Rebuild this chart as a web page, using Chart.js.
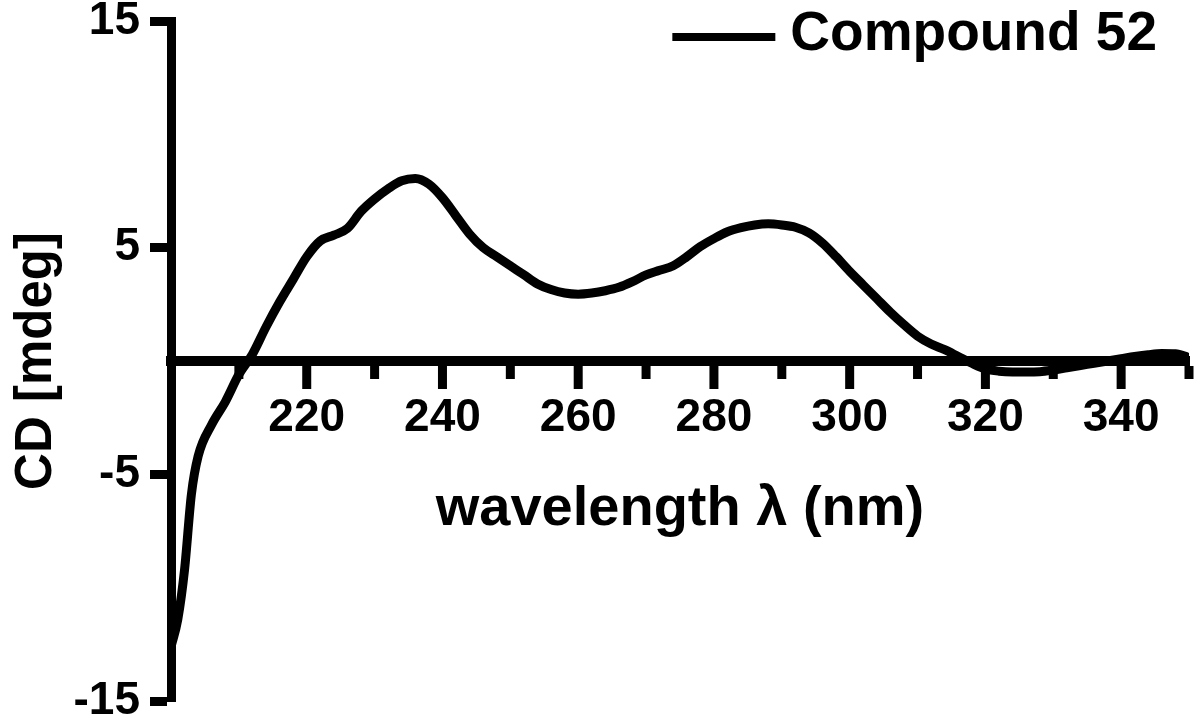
<!DOCTYPE html>
<html>
<head>
<meta charset="utf-8">
<script src="https://cdn.jsdelivr.net/npm/chart.js@4.4.1/dist/chart.umd.min.js"></script>
<style>
  html, body { margin: 0; padding: 0; background: #fff; }
  #wrap { width: 1200px; height: 721px; }
</style>
</head>
<body>
<div id="wrap"><canvas id="cd" width="1200" height="721"></canvas></div>
<script>
// CD spectrum, values
const wavelengths = [200, 201, 202, 203, 204, 206, 208, 210, 212, 214, 216, 218, 220, 222, 224, 226, 228, 230,
  232, 234, 236, 238, 240, 242, 244, 246, 248, 250, 252, 254, 256, 258, 260, 262, 264, 266, 268, 270,
  272, 274, 276, 278, 280, 282, 284, 286, 288, 290, 292, 294, 296, 298, 300, 302, 304, 306, 308, 310,
  312, 314, 316, 318, 320, 322, 324, 326, 328, 330, 332, 334, 336, 338, 340, 342, 344, 346, 348, 350];
const cdValues = [-12.6, -11.4, -9.2, -5.9, -4.2, -2.8, -1.8, -0.6, 0.3, 1.5, 2.6, 3.6, 4.6, 5.3, 5.55, 5.85, 6.6, 7.15,
  7.6, 7.95, 8.05, 7.8, 7.2, 6.4, 5.6, 5.0, 4.6, 4.2, 3.8, 3.4, 3.15, 3.0, 2.95, 3.0, 3.1, 3.25, 3.5, 3.8,
  4.0, 4.2, 4.6, 5.05, 5.4, 5.7, 5.88, 6.0, 6.05, 6.0, 5.9, 5.65, 5.2, 4.6, 3.95, 3.35, 2.75, 2.15, 1.6, 1.1,
  0.75, 0.5, 0.2, -0.1, -0.35, -0.45, -0.48, -0.48, -0.47, -0.4, -0.3, -0.2, -0.1, 0.0, 0.1, 0.2, 0.28, 0.33, 0.32, 0.15];

const xTickLabels = [220, 240, 260, 280, 300, 320, 340];
const yTickValues = [-15, -5, 5, 15];
const seriesName = 'Compound 52';

const FONT = "'Liberation Sans', Arial, Helvetica, sans-serif";
Chart.defaults.font.family = FONT;
Chart.defaults.color = '#000';

// minor / major ticks hanging below the x axis line (drawn from the scale)
const xTickMarks = {
  id: 'xTickMarks',
  afterDatasetsDraw(chart) {
    const xs = chart.scales.x, ys = chart.scales.y;
    const ctx = chart.ctx;
    const y0 = ys.getPixelForValue(0) + 5;
    ctx.save();
    ctx.fillStyle = '#000';
    xs.ticks.forEach(t => {
      if (t.value <= xs.min) return;
      const px = xs.getPixelForValue(t.value);
      const len = t.value % 20 === 0 ? 23 : 13;
      ctx.fillRect(px - 4.5, y0, 9, len);
    });
    ctx.restore();
  }
};

// legend in the top right corner of the plot
const lineLegend = {
  id: 'lineLegend',
  afterDraw(chart) {
    const ctx = chart.ctx;
    const area = chart.chartArea;
    const ds = chart.data.datasets[0];
    ctx.save();
    ctx.font = 'bold 55px ' + FONT;
    ctx.textBaseline = 'middle';
    ctx.textAlign = 'right';
    ctx.fillStyle = '#000';
    const tx = area.right - 32;
    const ty = area.top + 14;
    ctx.fillText(ds.label, tx, ty);
    const left = tx - ctx.measureText(ds.label).width;
    ctx.strokeStyle = ds.borderColor;
    ctx.lineWidth = 8;
    ctx.beginPath();
    ctx.moveTo(left - 118, ty + 2);
    ctx.lineTo(left - 15, ty + 2);
    ctx.stroke();
    ctx.restore();
  }
};

new Chart(document.getElementById('cd'), {
  type: 'line',
  data: {
    datasets: [{
      label: seriesName,
      data: wavelengths.map((w, i) => ({ x: w, y: cdValues[i] })),
      borderColor: '#000',
      backgroundColor: '#000',
      borderWidth: 9,
      pointRadius: 0,
      fill: false,
      cubicInterpolationMode: 'monotone'
    }]
  },
  options: {
    responsive: false,
    animation: false,
    devicePixelRatio: 1,
    layout: { padding: { top: 21, right: 8, bottom: 20, left: 0 } },
    plugins: { legend: { display: false }, tooltip: { enabled: false } },
    scales: {
      x: {
        type: 'linear',
        min: 200,
        max: 350,
        position: { y: 0 },
        border: { display: true, width: 10, color: '#000' },
        grid: { display: true, drawOnChartArea: false, drawTicks: true, tickLength: 23, tickColor: 'rgba(0,0,0,0)' },
        ticks: {
          stepSize: 10,
          autoSkip: false,
          maxRotation: 0,
          padding: 11,
          font: { size: 46, weight: 'bold', lineHeight: 1 },
          callback: v => xTickLabels.includes(v) ? String(v) : ''
        },
        title: {
          display: true,
          text: 'wavelength \u03bb (nm)',
          font: { size: 56, weight: 'bold', lineHeight: 1 },
          padding: { top: 30, bottom: 0 }
        }
      },
      y: {
        type: 'linear',
        min: -15,
        max: 15,
        position: 'left',
        border: { display: true, width: 9, color: '#000' },
        grid: { display: true, drawOnChartArea: false, drawTicks: true, tickLength: 21, tickWidth: 9, tickColor: '#000' },
        afterBuildTicks: s => { s.ticks = yTickValues.map(v => ({ value: v })); },
        afterFit: s => { s.width = 171; },
        ticks: {
          padding: 10,
          font: { size: 46, weight: 'bold', lineHeight: 0.4 },
          callback: v => String(v)
        },
        title: {
          display: true,
          text: 'CD [mdeg]',
          font: { size: 51, weight: 'bold', lineHeight: 1 },
          padding: { top: 11, bottom: 0 }
        }
      }
    }
  },
  plugins: [xTickMarks, lineLegend]
});
</script>
</body>
</html>
